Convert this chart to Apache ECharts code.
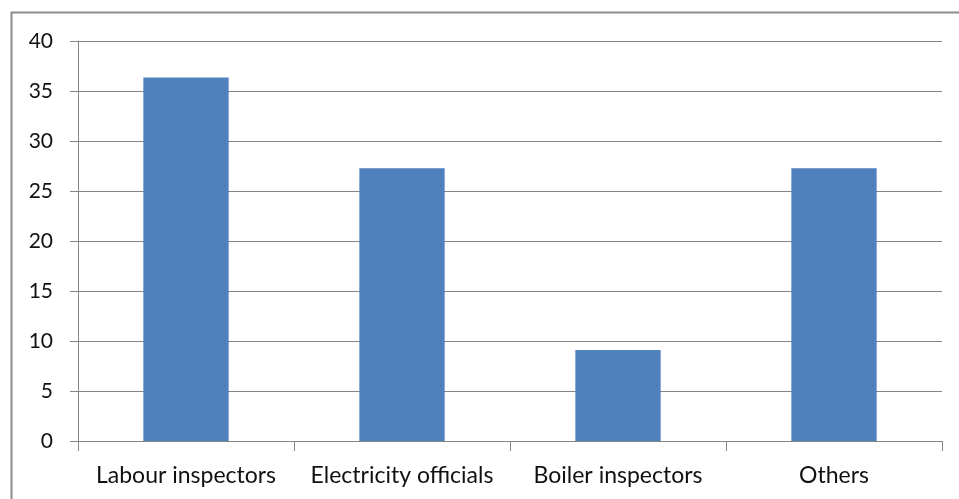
<!DOCTYPE html>
<html><head><meta charset="utf-8">
<script src="https://cdn.jsdelivr.net/npm/echarts@6/dist/echarts.min.js"></script>
<style>html,body{margin:0;padding:0;background:#fff}#c{width:959px;height:499px}</style>
</head><body><div id="c"></div>
<script>
const categories = ['Labour inspectors', 'Electricity officials', 'Boiler inspectors', 'Others'];
const values = [36.36, 27.27, 9.09, 27.27];
const yTicks = [0, 5, 10, 15, 20, 25, 30, 35, 40];

const chart = echarts.init(document.getElementById('c'), null, {renderer: 'canvas'});
const font = 'Lato, "Open Sans", sans-serif';
chart.setOption({
  animation: false,
  backgroundColor: '#fff',
  graphic: [{
    type: 'rect', left: 9, top: 10, z: 100,
    shape: {x: 0, y: 0, width: 1000, height: 600},
    style: {fill: 'none', stroke: '#8c8c8c', lineWidth: 2}
  }],
  grid: {left: 78, right: 17, top: 41, bottom: 58},
  xAxis: {
    type: 'category', data: categories,
    axisLine: {lineStyle: {color: '#868686', width: 1}},
    axisTick: {show: true, interval: 0, length: 10, alignWithLabel: false, lineStyle: {color: '#868686'}},
    axisLabel: {color: '#111', fontFamily: font, fontSize: 23, margin: 23, interval: 0, hideOverlap: false}
  },
  yAxis: {
    type: 'value', min: yTicks[0], max: yTicks[yTicks.length - 1], interval: 5,
    axisLine: {show: true, lineStyle: {color: '#868686', width: 1}},
    axisTick: {show: true, length: 8, lineStyle: {color: '#868686'}},
    splitLine: {lineStyle: {color: '#868686', width: 1}},
    axisLabel: {color: '#111', fontFamily: font, fontSize: 21, margin: 25}
  },
  series: [{
    type: 'bar', data: values, barWidth: '39.5%',
    itemStyle: {color: '#4F81BD'}
  }]
});
</script></body></html>
